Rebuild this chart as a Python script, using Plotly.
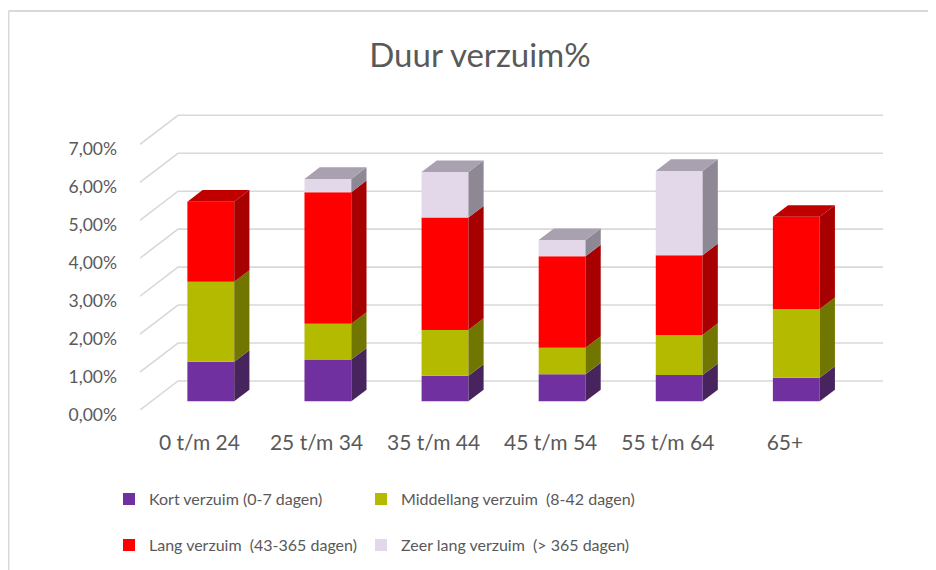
import plotly.graph_objects as go

# ---------------- data (percent) ----------------
categories = ["0 t/m 24", "25 t/m 34", "35 t/m 44", "45 t/m 54", "55 t/m 64", "65+"]
kort = [1.04, 1.10, 0.67, 0.71, 0.69, 0.62]
middellang = [2.11, 0.94, 1.21, 0.70, 1.06, 1.81]
lang = [2.11, 3.47, 2.96, 2.41, 2.10, 2.43]
zeer_lang = [0.00, 0.35, 1.20, 0.43, 2.22, 0.00]
y_ticks = [0, 1, 2, 3, 4, 5, 6, 7]
y_tick_labels = [f"{v:.2f}%".replace(".", ",") for v in y_ticks]

series = [kort, middellang, lang, zeer_lang]
series_names = [
    "Kort verzuim (0-7 dagen)",
    "Middellang verzuim\u00a0 (8-42 dagen)",
    "Lang verzuim\u00a0 (43-365 dagen)",
    "Zeer lang verzuim\u00a0 (> 365 dagen)",
]
front_colors = ["#7030A0", "#B3BA00", "#FF0000", "#E2D8EA"]
side_colors = ["#48245E", "#717600", "#A60000", "#8E8794"]
top_colors = ["#5A2680", "#8F9400", "#C00000", "#A9A1AF"]

# ---------------- layout geometry ----------------
W, H = 936, 570
OFF = 8                           # page body margin: figure pixel = screen pixel - OFF
PLOT_L, PLOT_R, PLOT_B = 140 - OFF, 883 - OFF, 410 - OFF
PX_X, PX_Y = 117.1, 37.9          # pixels per category / per percent
CAT0_PX = 199.4 - OFF             # pixel x of first category on the floor front
Y_MAX = 7.8
x_range = [(PLOT_L - CAT0_PX) / PX_X, (PLOT_R - CAT0_PX) / PX_X]
plot_top = PLOT_B - Y_MAX * PX_Y

FLOOR_DX = 38 / PX_X              # oblique depth of the floor, data units
FLOOR_DY = 29 / PX_Y
D_FRONT, D_BACK = 0.3, 0.7        # bars sit in the middle of the depth
BAR_W = 0.4
bar_off = -BAR_W / 2 + D_FRONT * FLOOR_DX
bar_lift = D_FRONT * FLOOR_DY
side_dx = (D_BACK - D_FRONT) * FLOOR_DX
side_dy = (D_BACK - D_FRONT) * FLOOR_DY

TXT = "#595959"
FONT = "Lato"
GRID = "#D9D9D9"


def px_to_paper_x(px):
    return (px - PLOT_L) / (PLOT_R - PLOT_L)


def px_to_paper_y(py):
    return (PLOT_B - py) / (PLOT_B - plot_top)


fig = go.Figure()
shapes = []

# side-wall diagonals and back-wall gridlines
for v in y_ticks:
    x0 = x_range[0]
    shapes.append(dict(
        type="path", xref="x", yref="y", layer="below",
        path=f"M{x0},{v} L{x0 + FLOOR_DX},{v + FLOOR_DY} L{x_range[1]},{v + FLOOR_DY}",
        line=dict(color=GRID, width=1.6),
    ))

idx = list(range(len(categories)))
cum = [0.0] * len(categories)
legend_ids = ["legend", "legend2", "legend3", "legend4"]
for s, vals in enumerate(series):
    bases = [bar_lift + c for c in cum]
    fig.add_trace(go.Bar(
        x=idx, y=vals, base=bases, width=BAR_W, offset=bar_off,
        name=series_names[s], marker=dict(color=front_colors[s], line=dict(width=0)),
        legend=legend_ids[s], showlegend=True,
        customdata=[[categories[i]] for i in idx],
        hovertemplate="%{customdata[0]}: %{y:.2f}%<extra>" + series_names[s] + "</extra>",
    ))
    for i in idx:
        if vals[i] <= 0:
            continue
        xr = i + bar_off + BAR_W
        y0 = bases[i]
        y1 = bases[i] + vals[i]
        shapes.append(dict(
            type="path", xref="x", yref="y", layer="above",
            path=f"M{xr},{y0} L{xr},{y1} L{xr + side_dx},{y1 + side_dy} L{xr + side_dx},{y0 + side_dy} Z",
            fillcolor=side_colors[s], line=dict(width=0),
        ))
    cum = [c + v for c, v in zip(cum, vals)]

# top faces of each stack
for i in idx:
    top_s = max(s for s in range(len(series)) if series[s][i] > 0)
    xl = i + bar_off
    xr = xl + BAR_W
    yt = bar_lift + cum[i]
    shapes.append(dict(
        type="path", xref="x", yref="y", layer="above",
        path=f"M{xl},{yt} L{xr},{yt} L{xr + side_dx},{yt + side_dy} L{xl + side_dx},{yt + side_dy} Z",
        fillcolor=top_colors[top_s], line=dict(width=0),
    ))

# chart border (top + left visible)
shapes.append(dict(type="line", xref="paper", yref="paper",
                   x0=px_to_paper_x(0.5), x1=px_to_paper_x(W + 5),
                   y0=px_to_paper_y(3.5), y1=px_to_paper_y(3.5),
                   line=dict(color=GRID, width=2)))
shapes.append(dict(type="line", xref="paper", yref="paper",
                   x0=px_to_paper_x(0.5), x1=px_to_paper_x(0.5),
                   y0=px_to_paper_y(3.5), y1=px_to_paper_y(H + 5),
                   line=dict(color=GRID, width=2)))

legend_px = [(101, 491), (353, 491), (101, 537), (353, 537)]
legend_cfg = {}
for lid, (lx, ly) in zip(legend_ids, legend_px):
    legend_cfg[lid] = dict(
        x=px_to_paper_x(lx), y=px_to_paper_y(ly), xanchor="left", yanchor="middle",
        orientation="h", bgcolor="rgba(0,0,0,0)", visible=True,
        font=dict(family=FONT, size=16, color=TXT),
    )

fig.update_layout(
    width=W, height=H, showlegend=True,
    margin=dict(l=PLOT_L, r=W - PLOT_R, t=plot_top, b=H - PLOT_B, autoexpand=False),
    paper_bgcolor="white", plot_bgcolor="white",
    barmode="overlay",
    font=dict(family=FONT, color=TXT),
    title=dict(text="Duur verzuim%", x=472 / W, xref="container", xanchor="center",
               y=1 - 47 / H, yref="container", yanchor="middle",
               font=dict(family=FONT, size=33, color=TXT)),
    xaxis=dict(range=x_range, tickvals=idx, ticktext=categories, showgrid=False,
               zeroline=False, showline=False, ticks="", ticklabelstandoff=18,
               tickfont=dict(family=FONT, size=21, color=TXT), fixedrange=True),
    yaxis=dict(range=[0, Y_MAX], tickvals=y_ticks, ticktext=y_tick_labels,
               showgrid=False, zeroline=False, showline=False, ticks="",
               ticklabelstandoff=22, ticklabelshift=5,
               tickfont=dict(family=FONT, size=17.5, color=TXT),
               fixedrange=True),
    shapes=shapes,
    **legend_cfg,
)

fig.write_html("out.html")
